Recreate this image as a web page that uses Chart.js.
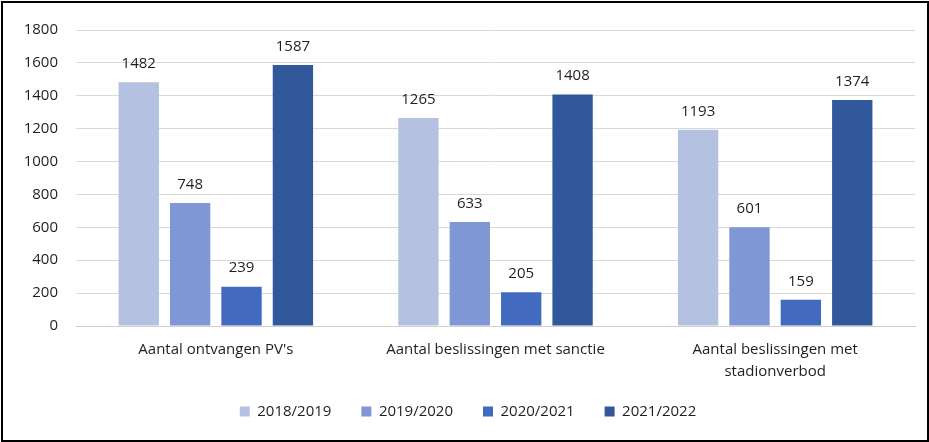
<!DOCTYPE html>
<html>
<head>
<meta charset="utf-8">
<script src="https://cdn.jsdelivr.net/npm/chart.js@4"></script>
<style>
html,body{margin:0;padding:0;background:#fff;}
#wrap{position:absolute;left:1px;top:1px;width:924px;height:437px;border:2px solid #000;background:#fff;}
canvas{display:block;}
</style>
</head>
<body>
<div id="wrap"><canvas id="c" width="924" height="437"></canvas></div>
<script>
const categories = ["Aantal ontvangen PV's", "Aantal beslissingen met sanctie", ["Aantal beslissingen met", "stadionverbod"]];
const seriesNames = ["2018/2019", "2019/2020", "2020/2021", "2021/2022"];
const s2018 = [1482, 1265, 1193];
const s2019 = [748, 633, 601];
const s2020 = [239, 205, 159];
const s2021 = [1587, 1408, 1374];
const colors = ["#b4c1e0", "#7f97d4", "#426bc0", "#30589b"];
const yTicks = [0, 200, 400, 600, 800, 1000, 1200, 1400, 1600, 1800];

const FONT = "'Open Sans', 'Liberation Sans', sans-serif";

const labelPlugin = {
  id: 'valueLabels',
  afterLayout(chart) {
    // let the multi-line category labels extend below the shortened axis box
    chart.scales.x.bottom += 40;
  },
  afterDatasetsDraw(chart) {
    const ctx = chart.ctx;
    ctx.save();
    ctx.font = "15px " + FONT;
    ctx.fillStyle = "#1f1f1f";
    ctx.textAlign = "center";
    ctx.textBaseline = "bottom";
    chart.data.datasets.forEach((ds, i) => {
      const meta = chart.getDatasetMeta(i);
      meta.data.forEach((bar, j) => {
        ctx.fillText(String(ds.data[j]), bar.x, bar.y - 11);
      });
    });
    ctx.restore();
  }
};

const seriesData = [s2018, s2019, s2020, s2021];
new Chart(document.getElementById('c'), {
  type: 'bar',
  data: {
    labels: categories,
    datasets: seriesNames.map((n, i) => ({
      label: n,
      data: seriesData[i],
      backgroundColor: colors[i],
      borderWidth: 0,
      categoryPercentage: 0.735,
      barPercentage: 0.785
    }))
  },
  options: {
    responsive: false,
    animation: false,
    devicePixelRatio: 1,
    layout: { padding: { left: 18, right: 12, top: 16, bottom: 11 } },
    plugins: {
      legend: {
        position: 'bottom',
        labels: {
          boxWidth: 10, boxHeight: 10, padding: 30,
          color: '#1f1f1f',
          font: { family: FONT, size: 15 }
        }
      },
      tooltip: { enabled: false }
    },
    scales: {
      x: {
        grid: { display: false },
        border: { color: '#d0d0d0', width: 1 },
        afterFit(scale) { scale.height = 48; },
        ticks: { color: '#1f1f1f', font: { family: FONT, size: 15, lineHeight: 1.45 }, padding: 5, maxRotation: 0 }
      },
      y: {
        min: 0, max: 1800,
        afterBuildTicks(scale) { scale.ticks = yTicks.map(v => ({ value: v })); },
        afterFit(scale) { scale.width = 55; },
        grid: { color: '#d9d9d9', drawTicks: false },
        border: { display: false },
        ticks: { color: '#1f1f1f', font: { family: FONT, size: 15 }, padding: 18, callback: v => String(v) }
      }
    }
  },
  plugins: [labelPlugin]
});
</script>
</body>
</html>
